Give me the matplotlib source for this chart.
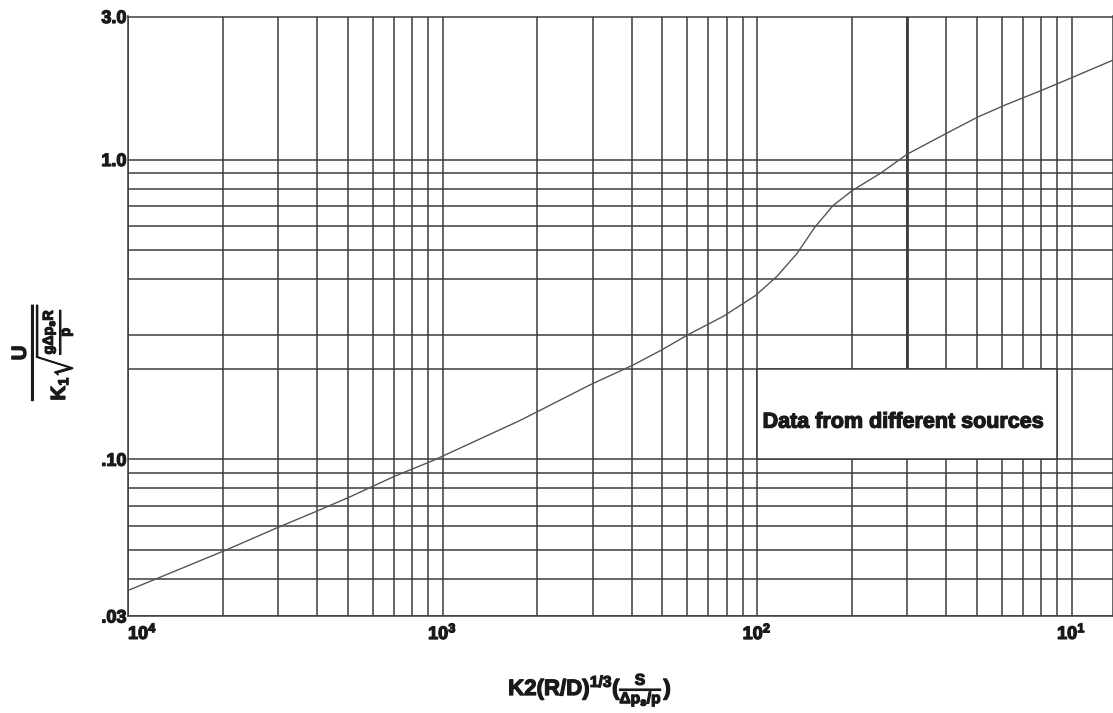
import matplotlib
matplotlib.use("Agg")
import matplotlib.pyplot as plt
import matplotlib.patheffects as pe
from matplotlib.patches import Rectangle
from matplotlib.ticker import FixedLocator, FixedFormatter, NullFormatter

# --- values (x runs from 10^4 down to ~7) ---
x_vals = [10000, 4856, 3367, 2512, 1959, 1426, 1070, 567, 502, 337, 249, 202,
          165, 128, 101, 86.4, 74.6, 65.4, 57.2, 49.6, 40.6, 33.3, 24.5,
          19.8, 16.3, 12.4, 10.1, 7.38]
y_vals = [0.0365, 0.0499, 0.0590, 0.0671, 0.0751, 0.0876, 0.0991, 0.1347,
          0.1437, 0.1778, 0.2057, 0.2309, 0.261, 0.2998, 0.352, 0.4077,
          0.486, 0.5956, 0.7036, 0.790, 0.898, 1.042, 1.236, 1.388, 1.518,
          1.704, 1.865, 2.146]

x_major = [1e4, 1e3, 1e2, 1e1]
x_major_labels = [r"$10^4$", r"$10^3$", r"$10^2$", r"$10^1$"]
# grid of the old log paper: lines at decade/k, k = 2..9
x_minor = [10 ** (d + 1) / k for d in (1, 2, 3) for k in range(2, 10)]

y_major = [0.03, 0.1, 1.0, 3.0]
y_major_labels = [".03", ".10", "1.0", "3.0"]
y_minor = [0.04, 0.05, 0.06, 0.07, 0.08, 0.09, 0.2, 0.26, 0.4, 0.5, 0.6, 0.7, 0.8, 0.9]

box_x = (100, 100 / 9)
box_y = (0.1, 0.2)
heavy_x = 100 / 3
note = "Data from different sources"
note_y = 0.133

plt.rcParams["font.family"] = ["Liberation Sans", "DejaVu Sans"]
plt.rcParams["mathtext.fontset"] = "custom"
plt.rcParams["mathtext.rm"] = "Liberation Sans:bold"
plt.rcParams["mathtext.bf"] = "Liberation Sans:bold"
plt.rcParams["mathtext.it"] = "Liberation Sans:bold"
plt.rcParams["mathtext.default"] = "bf"

GRID = "#3c3c3c"
INK = "#1a1a1a"
heavy = [pe.withStroke(linewidth=0.9, foreground=INK)]

fig = plt.figure(figsize=(11.13, 7.13), dpi=100)
ax = fig.add_axes([128 / 1113, 1 - 616 / 713, 1 - 128 / 1113, (616 - 16.5) / 713])

ax.set_xscale("log")
ax.set_yscale("log")
ax.set_xlim(1e4, 7.38)
ax.set_ylim(0.03, 3.0)

ax.xaxis.set_major_locator(FixedLocator(x_major))
ax.xaxis.set_major_formatter(FixedFormatter(x_major_labels))
ax.xaxis.set_minor_locator(FixedLocator(x_minor))
ax.xaxis.set_minor_formatter(NullFormatter())
ax.yaxis.set_major_locator(FixedLocator(y_major))
ax.yaxis.set_major_formatter(FixedFormatter(y_major_labels))
ax.yaxis.set_minor_locator(FixedLocator(y_minor))
ax.yaxis.set_minor_formatter(NullFormatter())

ax.set_axisbelow(True)
ax.grid(True, which="both", color=GRID, linewidth=1.1)
ax.tick_params(which="both", length=0, labelcolor=INK)
ax.tick_params(axis="x", pad=5, labelsize=13)
ax.tick_params(axis="y", pad=1, labelsize=13)
for lab in ax.get_yticklabels() + ax.get_xticklabels():
    lab.set_fontweight("bold")
    lab.set_path_effects(heavy)
ax.get_xticklabels()[0].set_horizontalalignment("left")

for sp in ax.spines.values():
    sp.set_color(GRID)
    sp.set_linewidth(1.1)

# heavier line on the original paper
ax.vlines(heavy_x, box_y[1], 3.0, color=GRID, linewidth=2.0, zorder=0.6)

# white label box
ax.add_patch(Rectangle((box_x[1], box_y[0]), box_x[0] - box_x[1], box_y[1] - box_y[0],
                       facecolor="white", edgecolor=GRID, linewidth=1.1, zorder=1))
ax.text(96, note_y, note, fontsize=15.5, fontweight="bold",
        ha="left", va="center", color=INK, zorder=2, path_effects=heavy)

ax.plot(x_vals, y_vals, color="#555555", linewidth=1.0, zorder=3)

fig.text(42 / 1113, 1 - 352 / 713,
         r"$\frac{U}{K_1\sqrt{\frac{g\Delta p_s R}{p}}}$",
         rotation=90, ha="center", va="center", fontsize=21, color=INK,
         path_effects=heavy)
fig.text(590 / 1113, 1 - 690 / 713,
         r"$K2(R/D)^{1/3}(\frac{S}{\Delta p_s/p})$",
         ha="center", va="center", fontsize=16, color=INK, path_effects=heavy)

fig.savefig("out.png", dpi=100)
